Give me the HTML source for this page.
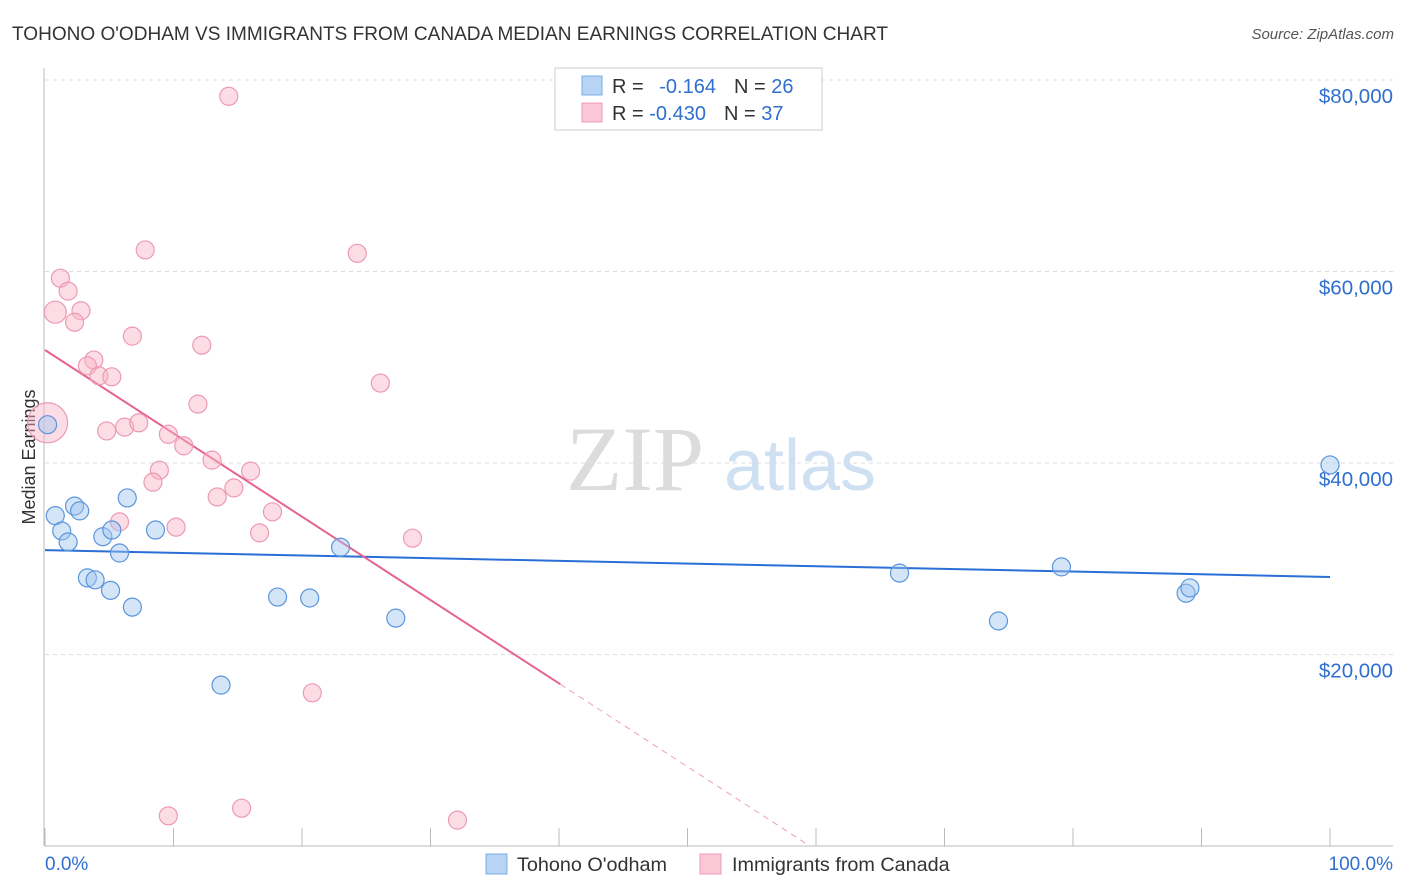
<!DOCTYPE html>
<html><head><meta charset="utf-8">
<style>
body{margin:0;background:#fff;font-family:"Liberation Sans",sans-serif;}
#wrap{position:relative;width:1406px;height:892px;overflow:hidden}
svg{position:absolute;left:0;top:0}
</style></head>
<body>
<div id="wrap">
<svg id="chart" width="1406" height="892">
  <text x="12" y="40" font-size="19" fill="#333" textLength="876" lengthAdjust="spacingAndGlyphs">TOHONO O'ODHAM VS IMMIGRANTS FROM CANADA MEDIAN EARNINGS CORRELATION CHART</text>
  <text x="1394" y="39" font-size="15" fill="#555" font-style="italic" text-anchor="end">Source: ZipAtlas.com</text>
  <text x="35" y="457" font-size="18" fill="#333" text-anchor="middle" transform="rotate(-90 35 457)">Median Earnings</text>
  <g>
    <text x="635" y="490" font-size="92" fill="#dcdcdc" font-family="Liberation Serif, serif" text-anchor="middle">ZIP</text>
    <text x="800" y="490" font-size="72" fill="#cfe0f3" text-anchor="middle">atlas</text>
  </g>
  <g id="grid"></g>
  <g id="ticks"></g>
  <g id="trend"></g>
  <g id="points"></g>
  <g>
    <rect x="555" y="68" width="267" height="62" fill="#fff" stroke="#ccc"/>
    <rect x="582" y="76" width="20" height="19" fill="#b8d4f5" stroke="#7aaee6"/>
    <rect x="582" y="103" width="20" height="19" fill="#fbc7d6" stroke="#ee9bb5"/>
    <text x="612" y="93" font-size="20" fill="#333">R = <tspan fill="#2f6fce" dx="10">-0.164</tspan><tspan dx="18">N = </tspan><tspan fill="#2f6fce">26</tspan></text>
    <text x="612" y="120" font-size="20" fill="#333">R = <tspan fill="#2f6fce">-0.430</tspan><tspan dx="18">N = </tspan><tspan fill="#2f6fce">37</tspan></text>
  </g>
  <g>
    <rect x="486" y="854" width="21" height="20" fill="#b8d4f5" stroke="#7aaee6"/>
    <text x="517" y="871" font-size="19.8" fill="#333">Tohono O'odham</text>
    <rect x="700" y="854" width="21" height="20" fill="#fbc7d6" stroke="#ee9bb5"/>
    <text x="732" y="871" font-size="19.8" fill="#333">Immigrants from Canada</text>
  </g>
  <text x="45" y="870" font-size="19" fill="#2f6fce">0.0%</text>
  <text x="1393" y="870" font-size="19" fill="#2f6fce" text-anchor="end">100.0%</text>
</svg>
</div>
<script>
const yTicks=[20000,40000,60000,80000];
const yTickLabels=["$20,000","$40,000","$60,000","$80,000"];
const xTicks=[0,10,20,30,40,50,60,70,80,90,100];
const blueX=[0.2,0.8,1.3,1.8,2.3,2.7,3.3,3.9,4.5,5.1,5.2,5.8,6.4,6.8,8.6,13.7,18.1,20.6,23.0,27.3,66.5,74.2,79.1,88.8,89.1,100];
const blueY=[44000,34500,32900,31750,35500,35000,28000,27800,32300,26700,33000,30600,36350,24950,33000,16800,26000,25900,31200,23800,28500,23500,29150,26400,26950,39800];
const pinkX=[14.3,7.8,24.3,1.2,1.8,0.8,2.8,2.3,6.8,12.2,3.8,3.3,4.2,5.2,26.1,11.9,4.8,6.2,7.3,9.6,10.8,13.0,8.9,16.0,8.4,14.7,13.4,17.7,5.8,10.2,16.7,28.6,20.8,9.6,15.3,32.1,0.2];
const pinkY=[78300,62250,61900,59300,57950,55750,55900,54700,53250,52300,50750,50150,49100,49000,48350,46150,43350,43750,44200,43000,41800,40300,39250,39150,38000,37400,36450,34900,33850,33300,32700,32150,16000,3150,3950,2700,44200];
const pinkR=[9,9,9,9,9,11,9,9,9,9,9,9,9,9,9,9,9,9,9,9,9,9,9,9,9,9,9,9,9,9,9,9,9,9,9,9,20];
const blueTrend=[30900,28100];
const pinkTrend=[51800,16900];
const pinkTrendEndX=40.1;

const NS="http://www.w3.org/2000/svg";
const sx=v=>45+v*12.85;
const sy=v=>846-v/20000*191.5;
function mk(tag,attrs,parent){const e=document.createElementNS(NS,tag);for(const k in attrs)e.setAttribute(k,attrs[k]);parent.appendChild(e);return e;}
const grid=document.getElementById('grid'),ticks=document.getElementById('ticks'),trend=document.getElementById('trend'),pts=document.getElementById('points');
yTicks.forEach((t,i)=>{
  const l=mk('line',{x1:45,x2:1393,y1:sy(t),y2:sy(t),stroke:'#ddd','stroke-dasharray':'4,4'},grid);
  
  
  const tx=mk('text',{x:1393,y:sy(t)+23,'font-size':20.5,fill:'#2f6fce','text-anchor':'end'},ticks);
  tx.textContent=yTickLabels[i];
  
  
});
const ax=mk('line',{x1:45,x2:1393,y1:846,y2:846,stroke:'#bbb'},ticks);


const ay=mk('line',{x1:44,x2:44,y1:68,y2:846,stroke:'#bbb'},ticks);


xTicks.forEach(t=>{
  const l=mk('line',{x1:sx(t),x2:sx(t),y1:828,y2:846,stroke:'#bbb'},ticks);
  
  
});
function dots(X,Y,R,fill,stroke,name){
  X.forEach((x,i)=>{
    const c=mk('circle',{cx:sx(x),cy:sy(Y[i]),r:R?R[i]:9,fill:fill,stroke:stroke,'stroke-width':1.2},pts);
    
    
  });
}
dots(pinkX,pinkY,pinkR,'rgba(248,180,200,0.45)','#ec9ab4','point-canada');
dots(blueX,blueY,null,'rgba(160,198,240,0.45)','#5b95dd','point-tohono');
const bt=mk('line',{x1:sx(0),x2:sx(100),y1:sy(blueTrend[0]),y2:sy(blueTrend[1]),stroke:'#2a6fd6','stroke-width':2},trend);


const pt=mk('line',{x1:sx(0),x2:sx(pinkTrendEndX),y1:sy(pinkTrend[0]),y2:sy(pinkTrend[1]),stroke:'#e5638e','stroke-width':2},trend);


const slope=(pinkTrend[1]-pinkTrend[0])/pinkTrendEndX;
const zx=-pinkTrend[0]/slope;
const pd=mk('line',{x1:sx(pinkTrendEndX),x2:sx(zx),y1:sy(pinkTrend[1]),y2:sy(0),stroke:'#eea0b8','stroke-width':1,'stroke-dasharray':'6,5'},trend);


</script>
</body></html>
